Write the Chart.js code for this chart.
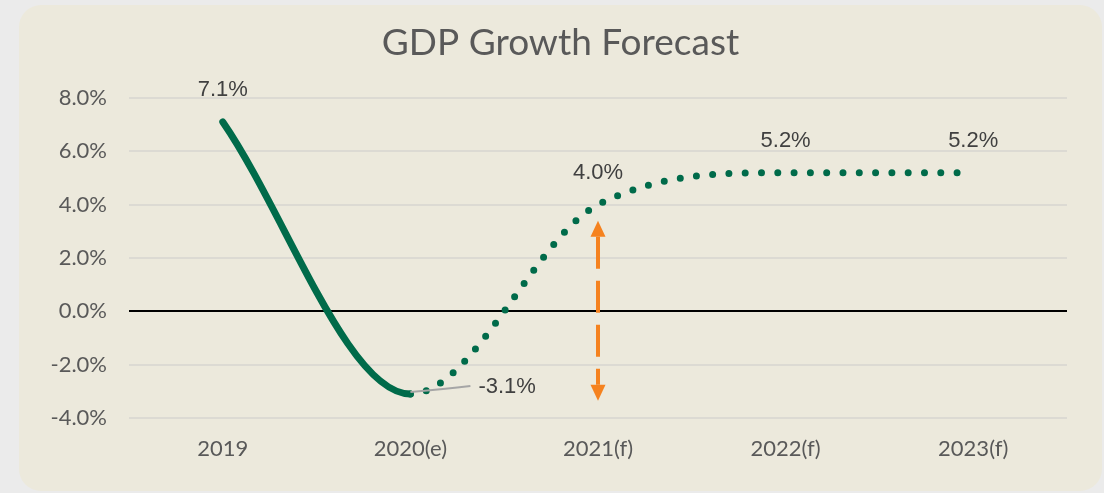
<!DOCTYPE html>
<html>
<head>
<meta charset="utf-8">
<script src="https://cdn.jsdelivr.net/npm/chart.js@4"></script>
<style>
  body { margin: 0; background: #ebebeb; }
  .card {
    position: absolute; left: 19px; top: 5px;
    width: 1083px; height: 486px;
    background: #ece9dc; border-radius: 22px; overflow: hidden;
  }
</style>
</head>
<body>
<div class="card"><canvas id="myChart" width="1083" height="486"></canvas></div>
<script>
// categories and values
var years = ["2019", "2020(e)", "2021(f)", "2022(f)", "2023(f)"];
var growth = [7.1, -3.1, 4.0, 5.2, 5.2];
var yTicks = [-4, -2, 0, 2, 4, 6, 8];
var chartTitle = "GDP Growth Forecast";
// the orange double arrow at 2021(f), in % units
var arrowTop = 3.4;
var arrowBottom = -3.35;

var green = "#006b4a";
var orange = "#f5821f";
var tickGrey = "#595959";

// title (centred on the whole card), data labels, leader line, orange arrow
var extras = {
	id: "extras",
	afterDatasetsDraw: function(chart){
		var c = chart.ctx;
		var xs = chart.scales.x, ys = chart.scales.y;
		var meta = chart.getDatasetMeta(0);

		c.save();
		c.font = "37px Lato, sans-serif";
		c.fillStyle = tickGrey;
		c.textAlign = "center";
		c.textBaseline = "middle";
		c.fillText(chartTitle, chart.width / 2, 38);

		// grey leader for the 2020 label
		var p1 = meta.data[1];
		c.strokeStyle = "#a6a6a6";
		c.lineWidth = 2;
		c.beginPath();
		c.moveTo(p1.x, p1.y - 2);
		c.quadraticCurveTo(p1.x + 35, p1.y - 5, p1.x + 60, p1.y - 8);
		c.stroke();

		// labels
		c.font = "22px 'Liberation Sans', Arial, sans-serif";
		c.fillStyle = "#404040";
		meta.data.forEach(function(pt, i){
			var txt = growth[i].toFixed(1) + "%";
			if (i === 1) {
				c.textAlign = "left";
				c.fillText(txt, pt.x + 68, pt.y - 7);
			} else {
				c.textAlign = "center";
				c.fillText(txt, pt.x, pt.y - 32);
			}
		});

		// orange dashed arrow
		var ax = xs.getPixelForValue(2);
		var yt = ys.getPixelForValue(arrowTop);
		var yb = ys.getPixelForValue(arrowBottom);
		var head = 16, hw = 7.5;
		c.strokeStyle = orange;
		c.fillStyle = orange;
		c.lineWidth = 4;
		c.setLineDash([32, 12]);
		c.beginPath();
		c.moveTo(ax, yt + head);
		c.lineTo(ax, yb - head);
		c.stroke();
		c.setLineDash([]);
		c.beginPath();
		c.moveTo(ax, yt);
		c.lineTo(ax - hw, yt + head);
		c.lineTo(ax + hw, yt + head);
		c.closePath();
		c.fill();
		c.beginPath();
		c.moveTo(ax, yb);
		c.lineTo(ax - hw, yb - head);
		c.lineTo(ax + hw, yb - head);
		c.closePath();
		c.fill();
		c.restore();
	}
};

var ctx = document.getElementById("myChart");
var chartInstance = new Chart(ctx, {
	type: "line",
	data: {
		labels: years,
		datasets: [
			{
				label: "GDP Growth",
				data: growth,
				borderColor: green,
				backgroundColor: green,
				borderWidth: 7,
				borderCapStyle: "round",
				pointRadius: 0,
				cubicInterpolationMode: "monotone",
				segment: {
					// actual part solid, estimate/forecast dotted
					borderDash: function(s){ return s.p0DataIndex >= 1 ? [0, 16.3] : undefined; }
				}
			}
		]
	},
	options: {
		responsive: false,
		animation: false,
		layout: { padding: { left: 0, right: 35, top: 93, bottom: 0 } },
		plugins: {
			legend: { display: false },
			tooltip: { enabled: false },
			title: { display: false }
		},
		scales: {
			x: {
				offset: true,
				grid: { display: false, drawTicks: false },
				border: { display: false },
				ticks: {
					color: tickGrey,
					padding: 18,
					font: { family: "Lato, sans-serif", size: 22 }
				},
				afterFit: function(s){ s.height = 73; }
			},
			y: {
				min: -4,
				max: 8,
				afterBuildTicks: function(s){ s.ticks = yTicks.map(function(v){ return { value: v }; }); },
				grid: {
					drawTicks: false,
					lineWidth: 2,
					color: function(g){ return g.tick && g.tick.value === 0 ? "#000000" : "#dcdad3"; }
				},
				border: { display: false },
				ticks: {
					color: tickGrey,
					padding: 22,
					font: { family: "Lato, sans-serif", size: 22 },
					callback: function(v){ return v.toFixed(1) + "%"; }
				},
				afterFit: function(s){ s.width = 110; }
			}
		}
	},
	plugins: [extras]
});
</script>
</body>
</html>
